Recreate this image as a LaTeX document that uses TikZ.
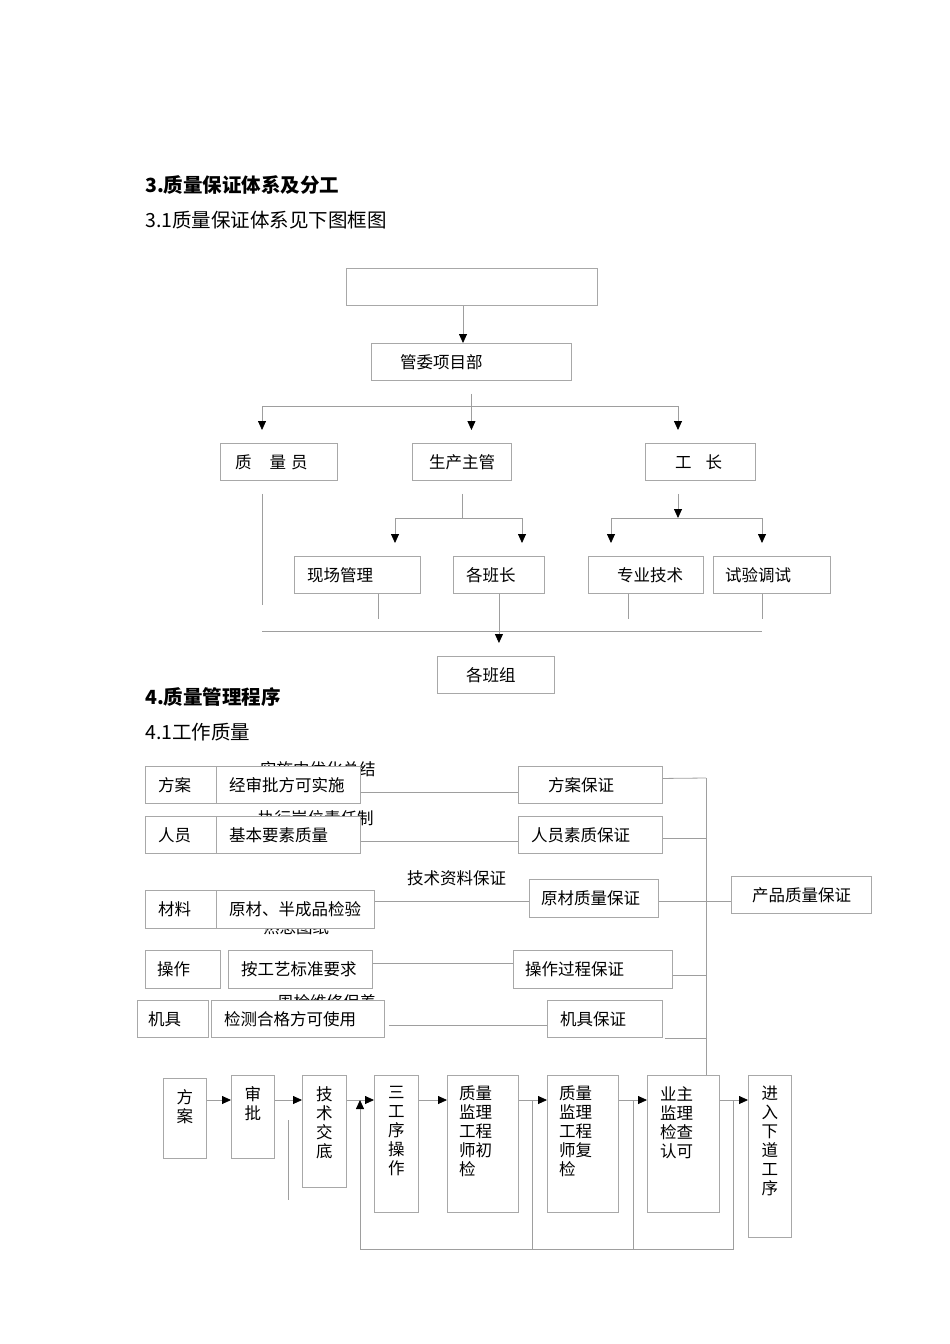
\documentclass[tikz,border=0pt]{standalone}
\usepackage{fontspec}
\setmainfont{Noto Sans CJK SC}
\usetikzlibrary{arrows.meta}
\definecolor{linegray}{gray}{0.62}
\definecolor{boxgray}{gray}{0.66}
\tikzset{
  box/.style={draw=boxgray, line width=0.9pt, fill=white, anchor=north west, inner sep=0pt},
  sz/.style 2 args={minimum width=#1, minimum height=#2},
  lbl/.style={anchor=west, inner sep=0pt},
  vt/.style={anchor=north, inner sep=0pt, align=center},
  vtl/.style={anchor=north west, inner sep=0pt, align=left},
  ln/.style={draw=linegray, line width=0.8pt},
  arr/.style={ln, -{Triangle[length=9pt, width=8pt, color=black]}},
  head/.style={lbl, font=\fontsize{19.5}{22}\selectfont\bfseries},
  sub/.style={lbl, font=\fontsize{19.5}{22}\selectfont},
}
\begin{document}
\begin{tikzpicture}[x=1pt, y=-1pt, font=\fontsize{16.5}{19}\selectfont]
\useasboundingbox (0,0) rectangle (950,1344);

\node[head] (h1) at (145,185) {3.质量保证体系及分工};
\node[sub] (h2) at (145,220) {3.1质量保证体系见下图框图};

% 3.1 framework
\node[box, sz={251}{37}] (top) at (346,268) {};
\node[box, sz={200}{37}] (gw) at (371,343) {};
\node[lbl] (gw-t) at ([xshift=29pt]gw.west) {管委项目部};
\node[box, sz={117}{37}] (zly) at (220,443) {};
\node[lbl] (zly-t) at ([xshift=15pt]zly.west) {质\hspace{18pt}量\hspace{5pt}员};
\node[box, sz={99}{37}] (sczg) at (412,443) {};
\node[lbl] (sczg-t) at ([xshift=17pt]sczg.west) {生产主管};
\node[box, sz={110}{37}] (gz) at (645,443) {};
\node[lbl] (gz-t) at ([xshift=30pt]gz.west) {工\hspace{14pt}长};
\node[box, sz={126}{37}] (xc) at (294,556) {};
\node[lbl] (xc-t) at ([xshift=13pt]xc.west) {现场管理};
\node[box, sz={91}{37}] (bz) at (453,556) {};
\node[lbl] (bz-t) at ([xshift=13pt]bz.west) {各班长};
\node[box, sz={115}{37}] (zy) at (588,556) {};
\node[lbl] (zy-t) at ([xshift=29pt]zy.west) {专业技术};
\node[box, sz={117}{37}] (sy) at (713,556) {};
\node[lbl] (sy-t) at ([xshift=12pt]sy.west) {试验调试};
\node[box, sz={117}{37}] (bzu) at (437,656) {};
\node[lbl] (bzu-t) at ([xshift=29pt]bzu.west) {各班组};

\coordinate (a0) at (463,305);
\draw[arr] (a0 |- top.south) -- (a0 |- gw.north);
\coordinate (b1) at (262,406);
\coordinate (b3) at (678,406);
\draw[ln] (b1) -- (b3);
\draw[arr, shorten <=13pt, shorten >=13pt] (gw.south) -- (gw.south |- sczg.north);
\foreach \c/\n in {b1/zly, b3/gz} \draw[arr, shorten >=13pt] (\c) -- (\c |- \n.north);

\coordinate (d1) at (262,605);
\draw[ln, shorten <=13pt] (d1 |- zly.south) -- (d1);
\coordinate (c1) at (395,518);
\coordinate (c2) at (522,518);
\draw[ln, shorten <=13pt] (sczg.south) -- (sczg.south |- c1);
\draw[ln] (c1) -- (c2);
\foreach \c/\n in {c1/xc, c2/bz} \draw[arr, shorten >=13pt] (\c) -- (\c |- \n.north);
\coordinate (e1) at (611,518);
\coordinate (e2) at (762,518);
\draw[arr, shorten <=13pt] (b3 |- gz.south) -- (b3 |- e1);
\draw[ln] (e1) -- (e2);
\foreach \c/\n in {e1/zy, e2/sy} \draw[arr, shorten >=13pt] (\c) -- (\c |- \n.north);

\coordinate (f1) at (262,631);
\coordinate (f2) at (762,631);
\draw[ln] (f1) -- (f2);
\foreach \n/\s in {xc/21, zy/-17.5, sy/-9.5} \draw[ln] ([xshift=\s pt]\n.south) -- ++(0,25);
\draw[arr, shorten >=13pt] (bz.south) -- (bz.south |- bzu.north);

\node[head] (h3) at (145,697) {4.质量管理程序};
\node[sub] (h4) at (145,732) {4.1工作质量};

% 4.1 work quality
\node[lbl] (ssz) at (260,769) {实施中优化总结};
\node[lbl] (zxg) at (258,818) {执行岗位责任制};
\node[lbl] (jszl) at (407,878) {技术资料保证};
\node[lbl] (sxtz) at (263,927) {熟悉图纸};
\node[lbl] (zjwx) at (277,1002) {周检维修保养};

\node[box, sz={71}{37}] (fa) at (145,766) {};
\node[lbl] (fa-t) at ([xshift=13pt]fa.west) {方案};
\node[box, sz={144}{37}] (jsp) at (216,766) {};
\node[lbl] (jsp-t) at ([xshift=13pt]jsp.west) {经审批方可实施};
\node[box, sz={144}{37}] (fabz) at (518,766) {};
\node[lbl] (fabz-t) at ([xshift=30pt]fabz.west) {方案保证};
\node[box, sz={71}{37}] (ry) at (145,816) {};
\node[lbl] (ry-t) at ([xshift=13pt]ry.west) {人员};
\node[box, sz={144}{37}] (jbys) at (216,816) {};
\node[lbl] (jbys-t) at ([xshift=13pt]jbys.west) {基本要素质量};
\node[box, sz={144}{37}] (rysz) at (518,816) {};
\node[lbl] (rysz-t) at ([xshift=13pt]rysz.west) {人员素质保证};
\node[box, sz={71}{38}] (cl) at (145,890) {};
\node[lbl] (cl-t) at ([xshift=13pt]cl.west) {材料};
\node[box, sz={158}{38}] (ycb) at (216,890) {};
\node[lbl] (ycb-t) at ([xshift=13pt]ycb.west) {原材、半成品检验};
\node[box, sz={129}{38}] (yczl) at (529,879) {};
\node[lbl] (yczl-t) at ([xshift=12pt]yczl.west) {原材质量保证};
\node[box, sz={75}{38}] (cz) at (145,950) {};
\node[lbl] (cz-t) at ([xshift=12pt]cz.west) {操作};
\node[box, sz={144}{38}] (agy) at (228,950) {};
\node[lbl] (agy-t) at ([xshift=13pt]agy.west) {按工艺标准要求};
\node[box, sz={159}{38}] (czgc) at (513,950) {};
\node[lbl] (czgc-t) at ([xshift=12pt]czgc.west) {操作过程保证};
\node[box, sz={71}{37}] (jj) at (137,1000) {};
\node[lbl] (jj-t) at ([xshift=11pt]jj.west) {机具};
\node[box, sz={173}{37}] (jchg) at (211,1000) {};
\node[lbl] (jchg-t) at ([xshift=13pt]jchg.west) {检测合格方可使用};
\node[box, sz={115}{37}] (jjbz) at (547,1000) {};
\node[lbl] (jjbz-t) at ([xshift=13pt]jjbz.west) {机具保证};
\node[box, sz={140}{37}] (cpzl) at (731,876) {};
\node[lbl] (cpzl-t) at ([xshift=21pt]cpzl.west) {产品质量保证};

\draw[ln] ([yshift=-7pt]jsp.east) -- ([yshift=-7pt]fabz.west);
\draw[ln] ([yshift=-6pt]jbys.east) -- ([yshift=-6pt]rysz.west);
\coordinate (p3) at ([yshift=-3pt]yczl.west);
\draw[ln] (p3 -| ycb.east) -- (p3);
\draw[ln] ([yshift=6pt]agy.east) -- ([yshift=6pt]czgc.west);
\draw[ln, shorten <=4pt] ([yshift=-6.5pt]jchg.east) -- ([yshift=-6.5pt]jjbz.west);

% bottom process
\node[box, sz={43}{80}] (fa2) at (163,1078) {};
\node[vt] (fa2-t) at ([yshift=-11pt]fa2.north) {方\\案};
\node[box, sz={43}{83}] (sp) at (231,1075) {};
\node[vt] (sp-t) at ([yshift=-11pt]sp.north) {审\\批};
\node[box, sz={44}{112}] (jsjd) at (302,1075) {};
\node[vt] (jsjd-t) at ([yshift=-11pt]jsjd.north) {技\\术\\交\\底};
\node[box, sz={44}{137}] (sgx) at (374,1075) {};
\node[vt] (sgx-t) at ([yshift=-11pt]sgx.north) {三\\工\\序\\操\\作};
\node[box, sz={71}{137}] (cj) at (447,1075) {};
\node[vtl] (cj-t) at ([xshift=12pt, yshift=-11pt]cj.north west) {质量\\监理\\工程\\师初\\检};
\node[box, sz={71}{137}] (fj) at (547,1075) {};
\node[vtl] (fj-t) at ([xshift=12pt, yshift=-11pt]fj.north west) {质量\\监理\\工程\\师复\\检};
\node[box, sz={72}{137}] (yz) at (647,1075) {};
\node[vtl] (yz-t) at ([xshift=13pt, yshift=-11pt]yz.north west) {业主\\监理\\检查\\认可};
\node[box, sz={43}{162}] (jr) at (748,1075) {};
\node[vt] (jr-t) at ([yshift=-11pt]jr.north) {进\\入\\下\\道\\工\\序};

\coordinate (t0) at (706,778);
\draw[ln] (t0) -- (t0 |- yz.north);
\draw[ln] ([yshift=6.5pt]fabz.east) -- (t0);
\coordinate (p2) at ([yshift=-3.5pt]rysz.east);
\draw[ln] (p2) -- (p2 -| t0);
\draw[ln] (p3 -| yczl.east) -- (p3 -| cpzl.west);
\coordinate (p4) at ([yshift=-6pt]czgc.east);
\draw[ln] (p4) -- (p4 -| t0);
\draw[ln, shorten <=2pt] (jjbz.south east) -- (jjbz.south east -| t0);

\coordinate (r) at (0,1100);
\foreach \a/\b in {fa2/sp, sp/jsjd, jsjd/sgx, sgx/cj, cj/fj, fj/yz, yz/jr}
  \draw[arr] (\a.east |- r) -- (\b.west |- r);
\draw[ln] (288,1120) -- (288,1200);
\coordinate (k1) at (532,1100);
\coordinate (k2) at (633,1100);
\coordinate (k3) at (733,1100);
\coordinate (fb) at (360,1249);
\draw[ln] (k1) -- (k1 |- fb);
\draw[ln] (k2) -- (k2 |- fb);
\draw[arr] (k3) |- (fb) -- (fb |- r);

\end{tikzpicture}
\end{document}
